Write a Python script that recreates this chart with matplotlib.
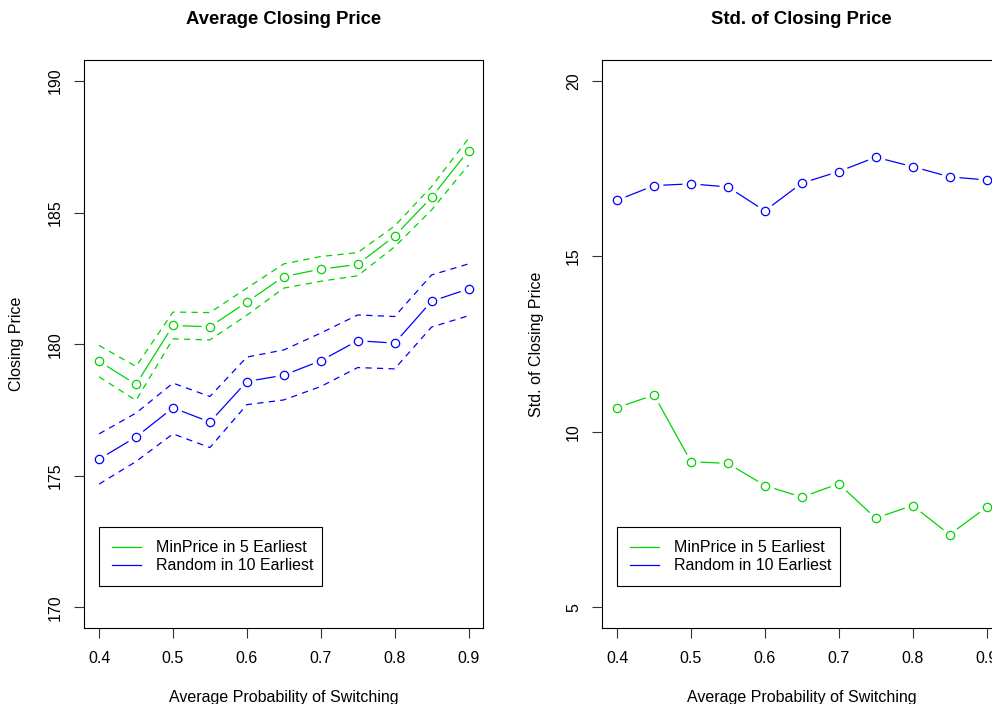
import numpy as np
import matplotlib.pyplot as plt
from matplotlib.lines import Line2D

plt.rcParams['font.family'] = ['Liberation Sans', 'DejaVu Sans']
plt.rcParams['lines.scale_dashes'] = False

# switching probability grid
p_switch = [0.40, 0.45, 0.50, 0.55, 0.60, 0.65, 0.70, 0.75, 0.80, 0.85, 0.90]

# mean closing price with upper / lower bands
minprice_mean = [179.35, 178.47, 180.71, 180.66, 181.60, 182.57, 182.85, 183.03, 184.11, 185.58, 187.36]
minprice_hi = [179.95, 179.15, 181.22, 181.20, 182.13, 183.05, 183.33, 183.48, 184.49, 185.99, 187.82]
minprice_lo = [178.76, 177.86, 180.20, 180.16, 181.10, 182.13, 182.39, 182.60, 183.70, 185.10, 186.81]

random_mean = [175.63, 176.47, 177.58, 177.04, 178.58, 178.82, 179.37, 180.13, 180.04, 181.63, 182.10]
random_hi = [176.59, 177.38, 178.52, 178.01, 179.51, 179.78, 180.42, 181.11, 181.05, 182.63, 183.05]
random_lo = [174.68, 175.54, 176.59, 176.07, 177.70, 177.88, 178.39, 179.11, 179.06, 180.65, 181.08]

# std of closing price
minprice_std = [10.69, 11.05, 9.15, 9.10, 8.47, 8.14, 8.52, 7.54, 7.90, 7.07, 7.85]
random_std = [16.60, 17.02, 17.07, 16.98, 16.30, 17.09, 17.42, 17.83, 17.56, 17.27, 17.18]

labels = ['MinPrice in 5 Earliest', 'Random in 10 Earliest']
green = '#00D400'
blue = '#0000FF'

fs = 11.5
lw = 0.9

fig = plt.figure(figsize=(9.92, 7.04), dpi=100)
ax1 = fig.add_axes([84.3 / 992, 1 - 628.3 / 704, 399 / 992, 568.3 / 704])
ax2 = fig.add_axes([602.3 / 992, 1 - 628.3 / 704, 399 / 992, 568.3 / 704])


def points_b(ax, x, y, c):
    # R-style type="b": line with gaps around the open circles
    ax.plot(x, y, color=c, lw=lw, zorder=2)
    ax.plot(x, y, ls='none', marker='o', ms=13, mfc='white', mec='none', zorder=2.5)
    ax.plot(x, y, ls='none', marker='o', ms=6, mfc='none', mec=c, mew=lw, zorder=4)


def style(ax, ylim, yticks, ylabel, title, ylab_x):
    ax.set_xlim(0.38, 0.92)
    ax.set_ylim(*ylim)
    ax.set_xticks([0.4, 0.5, 0.6, 0.7, 0.8, 0.9])
    ax.set_xticklabels(['0.4', '0.5', '0.6', '0.7', '0.8', '0.9'])
    ax.set_yticks(yticks)
    ax.tick_params(direction='out', length=7.2, width=0.8, labelsize=fs, color='#333333')
    ax.tick_params(axis='x', pad=9)
    ax.tick_params(axis='y', pad=8)
    for lab in ax.get_yticklabels():
        lab.set_rotation(90)
        lab.set_va('center')
    for s in ax.spines.values():
        s.set_linewidth(0.8)
    ax.set_xlabel('Average Probability of Switching', fontsize=fs)
    ax.xaxis.set_label_coords(0.5, -0.121)
    ax.xaxis.label.set_va('center')
    ax.set_ylabel(ylabel, fontsize=fs)
    ax.yaxis.set_label_coords(ylab_x, 0.5)
    ax.yaxis.label.set_va('center')
    ax.set_title(title, fontsize=13.3, fontweight='bold', y=1.0704, va='center', pad=0)
    handles = [Line2D([], [], color=green, lw=lw), Line2D([], [], color=blue, lw=lw)]
    leg = ax.legend(handles, labels, loc='lower left', bbox_to_anchor=(0.037, 0.074, 0.558, 0.1),
                    mode='expand', borderaxespad=0, fontsize=fs, frameon=True, fancybox=False,
                    edgecolor='black', framealpha=1, handlelength=1.8, handletextpad=0.95,
                    borderpad=0.8, labelspacing=0.2)
    leg.get_frame().set_linewidth(0.8)


# left: average closing price
points_b(ax1, p_switch, minprice_mean, green)
points_b(ax1, p_switch, random_mean, blue)
for y, c in [(minprice_hi, green), (minprice_lo, green), (random_hi, blue), (random_lo, blue)]:
    ax1.plot(p_switch, y, color=c, lw=lw, dashes=(4.5, 3.8), zorder=3)
style(ax1, (169.2, 190.8), [170, 175, 180, 185, 190], 'Closing Price', 'Average Closing Price', -0.169)

# right: std of closing price
points_b(ax2, p_switch, minprice_std, green)
points_b(ax2, p_switch, random_std, blue)
style(ax2, (4.4, 20.6), [5, 10, 15, 20], 'Std. of Closing Price', 'Std. of Closing Price', -0.164)

fig.savefig('out.png', dpi=100)
